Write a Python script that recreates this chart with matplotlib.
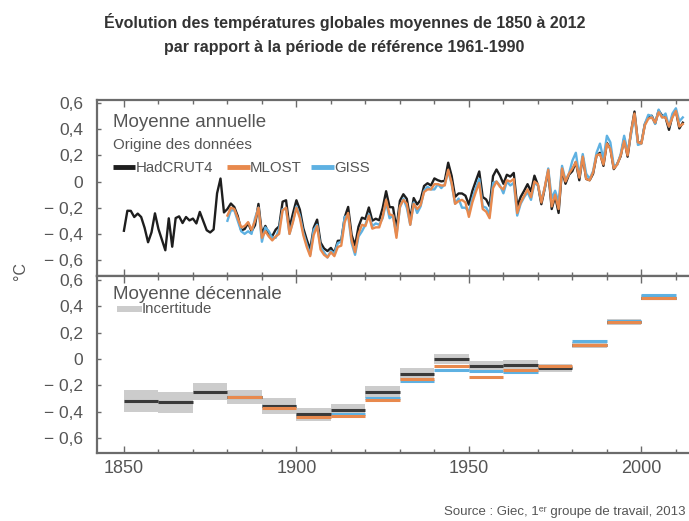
import matplotlib
matplotlib.use("Agg")
import matplotlib.pyplot as plt
from matplotlib.ticker import MultipleLocator

plt.rcParams["font.family"] = ["Liberation Sans", "DejaVu Sans"]

# annual anomalies (°C, reference 1961-1990)
had_years = list(range(1850, 2013))
hadcrut4 = [
    -0.376, -0.223, -0.224, -0.271, -0.245, -0.271, -0.354, -0.464, -0.388, -0.243,
    -0.362, -0.444, -0.525, -0.281, -0.498, -0.279, -0.266, -0.317, -0.271, -0.297,
    -0.283, -0.320, -0.232, -0.303, -0.372, -0.389, -0.366, -0.090, 0.023, -0.236,
    -0.210, -0.168, -0.195, -0.264, -0.373, -0.363, -0.317, -0.380, -0.334, -0.171,
    -0.400, -0.339, -0.399, -0.417, -0.367, -0.342, -0.154, -0.143, -0.353, -0.244,
    -0.143, -0.215, -0.357, -0.445, -0.519, -0.354, -0.291, -0.466, -0.511, -0.531,
    -0.507, -0.546, -0.453, -0.451, -0.273, -0.194, -0.409, -0.489, -0.345, -0.276,
    -0.286, -0.198, -0.299, -0.284, -0.296, -0.203, -0.074, -0.195, -0.197, -0.362,
    -0.147, -0.097, -0.132, -0.289, -0.126, -0.175, -0.140, -0.034, -0.013, -0.030,
    0.024, 0.010, 0.001, 0.006, 0.144, 0.043, -0.117, -0.091, -0.091, -0.108,
    -0.177, -0.072, 0.004, 0.077, -0.118, -0.137, -0.189, 0.042, 0.092, 0.046,
    -0.017, 0.052, 0.038, 0.066, -0.192, -0.118, -0.071, -0.020, -0.076, 0.045,
    -0.026, -0.173, -0.052, 0.080, -0.210, -0.112, -0.240, 0.093, -0.017, 0.052,
    0.080, 0.150, 0.010, 0.190, 0.020, 0.010, 0.060, 0.200, 0.220, 0.120,
    0.295, 0.254, 0.095, 0.135, 0.194, 0.329, 0.190, 0.378, 0.535, 0.299,
    0.295, 0.438, 0.492, 0.503, 0.444, 0.543, 0.504, 0.490, 0.395, 0.502,
    0.540, 0.406, 0.450,
]

noaa_years = list(range(1880, 2013))
mlost = [
    -0.26, -0.20, -0.21, -0.28, -0.35, -0.34, -0.31, -0.37, -0.30, -0.20,
    -0.43, -0.38, -0.42, -0.45, -0.42, -0.40, -0.22, -0.20, -0.40, -0.31,
    -0.20, -0.28, -0.41, -0.50, -0.57, -0.41, -0.34, -0.52, -0.56, -0.58,
    -0.54, -0.57, -0.50, -0.49, -0.31, -0.24, -0.45, -0.54, -0.40, -0.33,
    -0.34, -0.26, -0.36, -0.35, -0.35, -0.27, -0.14, -0.25, -0.26, -0.43,
    -0.19, -0.14, -0.17, -0.33, -0.17, -0.21, -0.18, -0.08, -0.06, -0.06,
    -0.02, -0.02, -0.03, -0.03, 0.09, -0.01, -0.17, -0.15, -0.14, -0.16,
    -0.27, -0.16, -0.08, -0.01, -0.21, -0.23, -0.28, -0.05, 0.00, -0.04,
    -0.06, 0.01, 0.00, 0.02, -0.24, -0.16, -0.11, -0.06, -0.12, 0.00,
    -0.02, -0.16, -0.04, 0.09, -0.19, -0.10, -0.21, 0.10, 0.00, 0.06,
    0.10, 0.15, 0.03, 0.19, 0.02, 0.01, 0.07, 0.20, 0.21, 0.13,
    0.29, 0.25, 0.10, 0.13, 0.20, 0.31, 0.20, 0.38, 0.52, 0.30,
    0.29, 0.43, 0.48, 0.49, 0.45, 0.53, 0.49, 0.49, 0.42, 0.49,
    0.54, 0.42, 0.44,
]
giss = [
    -0.30, -0.22, -0.22, -0.30, -0.38, -0.40, -0.38, -0.40, -0.28, -0.20,
    -0.46, -0.35, -0.38, -0.43, -0.43, -0.36, -0.21, -0.21, -0.40, -0.30,
    -0.19, -0.26, -0.39, -0.48, -0.56, -0.37, -0.33, -0.50, -0.54, -0.58,
    -0.53, -0.55, -0.47, -0.46, -0.27, -0.26, -0.47, -0.56, -0.42, -0.38,
    -0.33, -0.25, -0.34, -0.32, -0.33, -0.28, -0.16, -0.28, -0.26, -0.41,
    -0.20, -0.13, -0.20, -0.33, -0.16, -0.24, -0.19, -0.07, -0.04, -0.06,
    -0.06, -0.02, -0.05, -0.02, 0.08, -0.02, -0.17, -0.13, -0.20, -0.20,
    -0.23, -0.13, -0.05, 0.02, -0.19, -0.20, -0.25, -0.01, 0.00, -0.03,
    -0.09, 0.00, -0.03, -0.01, -0.26, -0.17, -0.12, -0.08, -0.14, -0.01,
    -0.03, -0.14, -0.05, 0.10, -0.13, -0.07, -0.16, 0.12, 0.01, 0.06,
    0.16, 0.22, 0.04, 0.21, 0.06, 0.02, 0.08, 0.22, 0.29, 0.17,
    0.35, 0.30, 0.12, 0.13, 0.21, 0.35, 0.23, 0.36, 0.51, 0.28,
    0.29, 0.44, 0.51, 0.50, 0.44, 0.55, 0.49, 0.52, 0.42, 0.52,
    0.56, 0.46, 0.49,
]

# decadal means
had_decades = list(range(1850, 2010, 10))
had_decadal = [-0.32, -0.33, -0.25, -0.29, -0.36, -0.42, -0.39, -0.25,
               -0.115, 0.0, -0.055, -0.045, -0.07, 0.105, 0.28, 0.465]
had_uncert = [0.085, 0.08, 0.065, 0.055, 0.06, 0.05, 0.045, 0.045,
              0.045, 0.04, 0.04, 0.035, 0.03, 0.025, 0.02, 0.02]
noaa_decades = list(range(1880, 2010, 10))
mlost_decadal = [-0.29, -0.375, -0.44, -0.43, -0.31, -0.155, -0.055, -0.135,
                 -0.08, -0.055, 0.11, 0.28, 0.46]
giss_decadal = [-0.29, -0.355, -0.43, -0.42, -0.30, -0.17, -0.08, -0.095,
                -0.10, -0.06, 0.135, 0.285, 0.485]

y_ticks = [-0.6, -0.4, -0.2, 0, 0.2, 0.4, 0.6]
y_labels = ["\u2212 0,6", "\u2212 0,4", "\u2212 0,2", "0", "0,2", "0,4", "0,6"]

BLACK = "#1e1e1e"
ORANGE = "#e8894d"
BLUE = "#5eb1e2"
GREY_TXT = "#555555"
SPINE = "#6b6b6b"
BAND = "#cccccc"

fig = plt.figure(figsize=(6.89, 5.21), dpi=100)
ax1 = fig.add_axes([0.1408, 0.4702, 0.8592, 0.3378])
ax2 = fig.add_axes([0.1408, 0.1305, 0.8592, 0.3397])

for ax in (ax1, ax2):
    ax.set_xlim(1842.2, 2013.8)
    ax.xaxis.set_major_locator(MultipleLocator(50))
    ax.xaxis.set_minor_locator(MultipleLocator(10))
    ax.tick_params(axis="x", which="both", direction="in", top=True, bottom=True,
                   color=SPINE, width=1.0)
    ax.tick_params(axis="x", which="major", length=5)
    ax.tick_params(axis="x", which="minor", length=3)
    ax.set_yticks(y_ticks)
    ax.set_yticklabels(y_labels)
    ax.tick_params(axis="y", direction="in", length=3, color=SPINE, width=1.0,
                   labelsize=12.5, labelcolor=GREY_TXT, pad=10)
    ax.spines["right"].set_visible(False)
    for side in ("left", "top", "bottom"):
        ax.spines[side].set_color(SPINE)
        ax.spines[side].set_linewidth(1.6)

ax1.set_ylim(-0.722, 0.623)
ax1.tick_params(axis="x", labelbottom=False)
ax2.set_ylim(-0.714, 0.63)
ax2.tick_params(axis="x", labelsize=13, labelcolor=GREY_TXT, pad=5)

# top panel: annual series
ax1.plot(had_years, hadcrut4, color=BLACK, lw=1.7, zorder=3)
ax1.plot(noaa_years, giss, color=BLUE, lw=1.7, zorder=4)
ax1.plot(noaa_years, mlost, color=ORANGE, lw=1.7, zorder=5)

ax1.text(0.027, 0.875, "Moyenne annuelle", transform=ax1.transAxes,
         fontsize=13.5, color=GREY_TXT, va="center")
ax1.text(0.027, 0.742, "Origine des données", transform=ax1.transAxes,
         fontsize=10.8, color=GREY_TXT, va="center")
legend_items = [("HadCRUT4", BLACK, 0.027), ("MLOST", ORANGE, 0.220),
                ("GISS", BLUE, 0.362)]
for name, col, x0 in legend_items:
    ax1.plot([x0, x0 + 0.038], [0.62, 0.62], transform=ax1.transAxes,
             color=col, lw=3.5, solid_capstyle="butt", clip_on=False)
    ax1.text(x0 + 0.038, 0.615, name, transform=ax1.transAxes,
             fontsize=10.8, color=GREY_TXT, va="center")

# bottom panel: decadal means with uncertainty
for d, v, u in zip(had_decades, had_decadal, had_uncert):
    ax2.fill_between([d, d + 10], v - u, v + u, color=BAND, lw=0, zorder=1)
ax2.hlines(had_decadal, had_decades, [d + 10 for d in had_decades],
           color="#3a3a3a", lw=2.2, zorder=3)
ax2.hlines(mlost_decadal, noaa_decades, [d + 10 for d in noaa_decades],
           color=ORANGE, lw=2.2, zorder=4)
ax2.hlines(giss_decadal, noaa_decades, [d + 10 for d in noaa_decades],
           color=BLUE, lw=2.2, zorder=2)

ax2.text(0.027, 0.895, "Moyenne décennale", transform=ax2.transAxes,
         fontsize=13.5, color=GREY_TXT, va="center")
ax2.fill_between([0.034, 0.076], 0.795, 0.828, transform=ax2.transAxes,
                 color=BAND, lw=0)
ax2.text(0.076, 0.812, "Incertitude", transform=ax2.transAxes,
         fontsize=10.8, color=GREY_TXT, va="center")

fig.text(0.03, 0.48, "°C", rotation=90, fontsize=11.5, color=GREY_TXT,
         ha="center", va="center")

fig.text(0.5, 1 - 22 / 521, "Évolution des températures globales moyennes de 1850 à 2012",
         ha="center", va="center", fontsize=11.5, fontweight="bold", color="#333333")
fig.text(0.5, 1 - 47 / 521, "par rapport à la période de référence 1961-1990",
         ha="center", va="center", fontsize=11.5, fontweight="bold", color="#333333")

fig.text(0.995, 1 - 512 / 521, "Source : Giec, 1ᵉʳ groupe de travail, 2013",
         ha="right", va="center", fontsize=9.5, color=GREY_TXT)

fig.savefig("out.png", dpi=100)
